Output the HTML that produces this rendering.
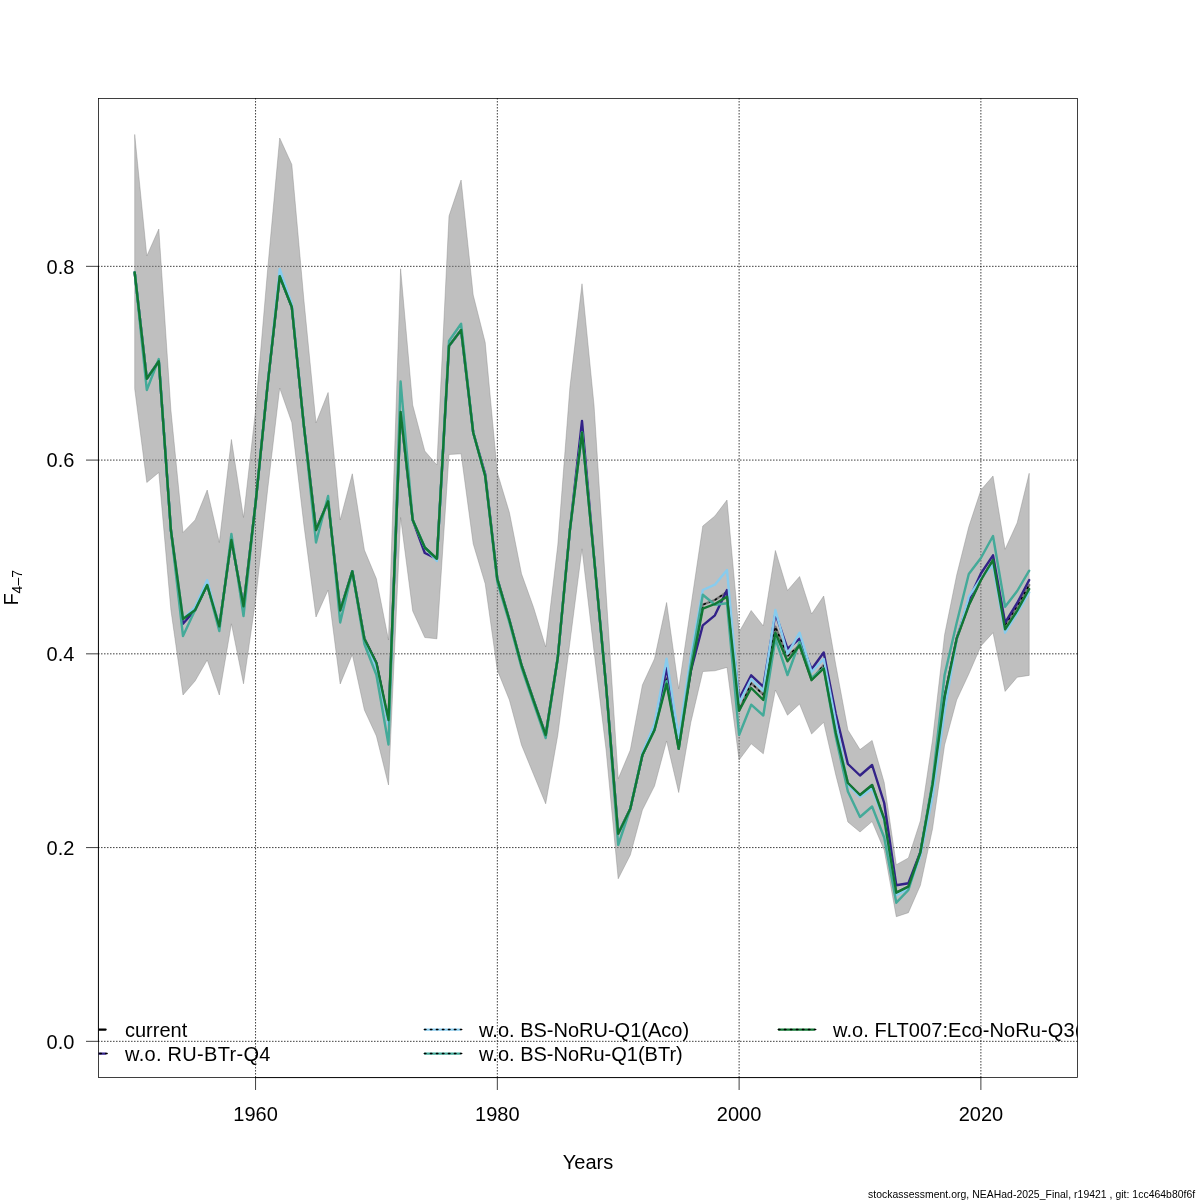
<!DOCTYPE html>
<html><head><meta charset="utf-8"><title>F4-7 leave-out</title>
<style>
html,body{margin:0;padding:0;background:#fff;}
body{width:1200px;height:1200px;overflow:hidden;}
svg{display:block;will-change:transform;}
text{font-family:"Liberation Sans",sans-serif;fill:#000;}
</style></head><body>
<svg width="1200" height="1200" viewBox="0 0 1200 1200">
<defs><clipPath id="pc"><rect x="98.4" y="98.4" width="979.2" height="979.2"/></clipPath></defs>
<g stroke="#000" stroke-width="0.75" stroke-dasharray="0.75 2.25" stroke-linecap="round" fill="none"><line x1="255.56" y1="98.4" x2="255.56" y2="1077.6"/><line x1="497.33" y1="98.4" x2="497.33" y2="1077.6"/><line x1="739.11" y1="98.4" x2="739.11" y2="1077.6"/><line x1="980.89" y1="98.4" x2="980.89" y2="1077.6"/><line x1="98.4" y1="1041.33" x2="1077.6" y2="1041.33"/><line x1="98.4" y1="847.58" x2="1077.6" y2="847.58"/><line x1="98.4" y1="653.83" x2="1077.6" y2="653.83"/><line x1="98.4" y1="460.08" x2="1077.6" y2="460.08"/><line x1="98.4" y1="266.33" x2="1077.6" y2="266.33"/></g>
<g clip-path="url(#pc)">
<path d="M134.7 134.5 L146.8 256.0 L158.8 229.0 L170.9 410.0 L183.0 532.5 L195.1 520.0 L207.2 490.0 L219.3 542.5 L231.4 439.5 L243.5 517.5 L255.6 410.0 L267.6 270.0 L279.7 138.0 L291.8 164.5 L303.9 300.0 L316.0 423.0 L328.1 392.5 L340.2 520.0 L352.3 473.8 L364.4 550.0 L376.4 578.8 L388.5 640.0 L400.6 268.8 L412.7 405.0 L424.8 451.0 L436.9 465.0 L449.0 216.0 L461.1 180.0 L473.2 295.0 L485.2 342.5 L497.3 472.5 L509.4 512.5 L521.5 573.8 L533.6 607.5 L545.7 647.0 L557.8 545.0 L569.9 387.5 L582.0 283.8 L594.0 405.0 L606.1 593.0 L618.2 778.8 L630.3 750.0 L642.4 685.0 L654.5 658.8 L666.6 602.5 L678.7 688.8 L690.8 607.0 L702.8 526.0 L714.9 516.0 L727.0 500.0 L739.1 632.0 L751.2 610.5 L763.3 626.0 L775.4 550.5 L787.5 590.5 L799.6 576.5 L811.6 614.0 L823.7 596.0 L835.8 665.0 L847.9 730.0 L860.0 749.6 L872.1 740.4 L884.2 782.5 L896.3 864.7 L908.4 858.0 L920.4 820.7 L932.5 740.0 L944.6 634.7 L956.7 575.0 L968.8 526.7 L980.9 490.0 L993.0 476.0 L1005.1 549.3 L1017.2 522.7 L1029.2 473.3 L1029.2 675.4 L1017.2 677.2 L1005.1 691.4 L993.0 632.7 L980.9 646.0 L968.8 674.0 L956.7 700.0 L944.6 745.0 L932.5 829.0 L920.4 885.3 L908.4 912.7 L896.3 916.7 L884.2 850.0 L872.1 821.5 L860.0 832.0 L847.9 822.0 L835.8 775.0 L823.7 722.3 L811.6 734.0 L799.6 704.0 L787.5 715.2 L775.4 690.0 L763.3 753.8 L751.2 743.8 L739.1 760.0 L727.0 667.4 L714.9 670.8 L702.8 671.5 L690.8 722.5 L678.7 792.5 L666.6 741.0 L654.5 786.0 L642.4 810.0 L630.3 855.0 L618.2 878.8 L606.1 750.0 L594.0 651.0 L582.0 548.8 L569.9 642.5 L557.8 735.0 L545.7 803.8 L533.6 774.5 L521.5 745.0 L509.4 700.0 L497.3 670.0 L485.2 583.8 L473.2 543.8 L461.1 453.8 L449.0 454.5 L436.9 638.8 L424.8 637.5 L412.7 611.0 L400.6 517.5 L388.5 785.0 L376.4 736.0 L364.4 710.0 L352.3 654.5 L340.2 684.0 L328.1 590.0 L316.0 617.0 L303.9 525.0 L291.8 422.5 L279.7 388.0 L267.6 490.0 L255.6 600.0 L243.5 683.8 L231.4 623.8 L219.3 695.0 L207.2 660.0 L195.1 681.0 L183.0 695.0 L170.9 610.0 L158.8 472.5 L146.8 482.5 L134.7 388.8Z" fill="rgba(128,128,128,0.5)" stroke="rgba(128,128,128,0.5)" stroke-width="0.75" stroke-linejoin="round"/>
<g fill="none" stroke-linejoin="round" stroke-linecap="round">
<path d="M134.7 272.5 L146.8 378.8 L158.8 361.3 L170.9 530.0 L183.0 619.0 L195.1 610.0 L207.2 585.0 L219.3 626.3 L231.4 540.0 L243.5 606.3 L255.6 503.0 L267.6 385.0 L279.7 276.3 L291.8 307.0 L303.9 426.0 L316.0 530.0 L328.1 501.3 L340.2 610.5 L352.3 571.3 L364.4 638.8 L376.4 663.0 L388.5 720.0 L400.6 412.0 L412.7 520.0 L424.8 547.5 L436.9 558.8 L449.0 346.0 L461.1 330.0 L473.2 432.5 L485.2 476.0 L497.3 578.8 L509.4 620.0 L521.5 665.0 L533.6 700.5 L545.7 735.0 L557.8 657.5 L569.9 530.0 L582.0 432.5 L594.0 557.0 L606.1 686.0 L618.2 833.8 L630.3 808.8 L642.4 755.0 L654.5 730.0 L666.6 678.0 L678.7 748.8 L690.8 671.0 L702.8 604.7 L714.9 600.0 L727.0 592.0 L739.1 710.7 L751.2 683.0 L763.3 694.7 L775.4 626.7 L787.5 656.0 L799.6 645.3 L811.6 680.0 L823.7 665.0 L835.8 733.0 L847.9 783.0 L860.0 795.0 L872.1 785.0 L884.2 819.0 L896.3 892.7 L908.4 886.7 L920.4 852.5 L932.5 785.0 L944.6 697.0 L956.7 638.7 L968.8 605.3 L980.9 580.0 L993.0 560.0 L1005.1 625.0 L1017.2 606.0 L1029.2 585.0" stroke="#787878" stroke-width="2.4"/>
<path d="M134.7 272.5 L146.8 378.8 L158.8 361.3 L170.9 530.0 L183.0 619.0 L195.1 610.0 L207.2 585.0 L219.3 626.3 L231.4 540.0 L243.5 606.3 L255.6 503.0 L267.6 385.0 L279.7 276.3 L291.8 307.0 L303.9 426.0 L316.0 530.0 L328.1 501.3 L340.2 610.5 L352.3 571.3 L364.4 638.8 L376.4 663.0 L388.5 720.0 L400.6 412.0 L412.7 520.0 L424.8 547.5 L436.9 558.8 L449.0 346.0 L461.1 330.0 L473.2 432.5 L485.2 476.0 L497.3 578.8 L509.4 620.0 L521.5 665.0 L533.6 700.5 L545.7 735.0 L557.8 657.5 L569.9 530.0 L582.0 432.5 L594.0 557.0 L606.1 686.0 L618.2 833.8 L630.3 808.8 L642.4 755.0 L654.5 730.0 L666.6 678.0 L678.7 748.8 L690.8 671.0 L702.8 604.7 L714.9 600.0 L727.0 592.0 L739.1 710.7 L751.2 683.0 L763.3 694.7 L775.4 626.7 L787.5 656.0 L799.6 645.3 L811.6 680.0 L823.7 665.0 L835.8 733.0 L847.9 783.0 L860.0 795.0 L872.1 785.0 L884.2 819.0 L896.3 892.7 L908.4 886.7 L920.4 852.5 L932.5 785.0 L944.6 697.0 L956.7 638.7 L968.8 605.3 L980.9 580.0 L993.0 560.0 L1005.1 625.0 L1017.2 606.0 L1029.2 585.0" stroke="#000" stroke-width="1.5" stroke-dasharray="1.5 4.5" />
<path d="M134.7 272.5 L146.8 378.8 L158.8 361.3 L170.9 530.0 L183.0 623.8 L195.1 610.0 L207.2 585.0 L219.3 626.3 L231.4 540.0 L243.5 606.3 L255.6 503.0 L267.6 385.0 L279.7 276.3 L291.8 307.0 L303.9 426.0 L316.0 530.0 L328.1 501.3 L340.2 610.5 L352.3 571.3 L364.4 638.8 L376.4 663.0 L388.5 723.0 L400.6 412.0 L412.7 520.0 L424.8 553.0 L436.9 558.8 L449.0 346.0 L461.1 330.0 L473.2 432.5 L485.2 474.0 L497.3 578.8 L509.4 620.0 L521.5 665.0 L533.6 700.5 L545.7 735.0 L557.8 657.5 L569.9 530.0 L582.0 421.0 L594.0 557.0 L606.1 686.0 L618.2 833.8 L630.3 808.8 L642.4 755.0 L654.5 727.0 L666.6 668.0 L678.7 741.5 L690.8 671.0 L702.8 625.3 L714.9 615.3 L727.0 590.0 L739.1 698.7 L751.2 675.3 L763.3 686.7 L775.4 613.5 L787.5 648.7 L799.6 638.7 L811.6 669.3 L823.7 652.5 L835.8 714.0 L847.9 764.0 L860.0 775.5 L872.1 765.0 L884.2 803.0 L896.3 885.3 L908.4 883.3 L920.4 852.0 L932.5 785.0 L944.6 697.0 L956.7 638.7 L968.8 600.0 L980.9 573.5 L993.0 555.3 L1005.1 622.7 L1017.2 603.0 L1029.2 580.0" stroke="#332288" stroke-width="2.4"/>
<path d="M134.7 272.5 L146.8 378.8 L158.8 361.3 L170.9 530.0 L183.0 619.0 L195.1 607.0 L207.2 580.0 L219.3 626.3 L231.4 540.0 L243.5 606.3 L255.6 503.0 L267.6 385.0 L279.7 269.0 L291.8 304.0 L303.9 426.0 L316.0 530.0 L328.1 501.3 L340.2 610.5 L352.3 571.3 L364.4 638.8 L376.4 668.0 L388.5 725.0 L400.6 412.0 L412.7 520.0 L424.8 547.5 L436.9 561.0 L449.0 346.0 L461.1 330.0 L473.2 432.5 L485.2 476.0 L497.3 578.8 L509.4 620.0 L521.5 665.0 L533.6 700.5 L545.7 735.0 L557.8 657.5 L569.9 530.0 L582.0 432.5 L594.0 557.0 L606.1 686.0 L618.2 833.8 L630.3 808.8 L642.4 753.0 L654.5 724.0 L666.6 658.8 L678.7 738.0 L690.8 657.0 L702.8 590.0 L714.9 584.7 L727.0 570.0 L739.1 703.0 L751.2 679.0 L763.3 691.0 L775.4 610.0 L787.5 654.0 L799.6 632.7 L811.6 672.0 L823.7 659.0 L835.8 722.0 L847.9 785.0 L860.0 797.0 L872.1 788.5 L884.2 821.0 L896.3 895.3 L908.4 888.7 L920.4 856.0 L932.5 797.0 L944.6 711.0 L956.7 640.0 L968.8 596.7 L980.9 578.5 L993.0 565.0 L1005.1 632.7 L1017.2 613.0 L1029.2 592.5" stroke="#88CCEE" stroke-width="2.4"/>
<path d="M134.7 272.5 L146.8 390.0 L158.8 359.0 L170.9 530.0 L183.0 636.0 L195.1 610.0 L207.2 585.0 L219.3 631.0 L231.4 534.0 L243.5 616.0 L255.6 503.0 L267.6 385.0 L279.7 276.3 L291.8 307.0 L303.9 426.0 L316.0 542.5 L328.1 496.0 L340.2 622.5 L352.3 571.3 L364.4 644.0 L376.4 675.0 L388.5 744.5 L400.6 381.5 L412.7 520.0 L424.8 547.5 L436.9 558.8 L449.0 341.0 L461.1 323.8 L473.2 432.5 L485.2 476.0 L497.3 582.0 L509.4 622.5 L521.5 667.5 L533.6 703.0 L545.7 738.0 L557.8 657.5 L569.9 530.0 L582.0 432.5 L594.0 557.0 L606.1 686.0 L618.2 845.0 L630.3 808.8 L642.4 755.0 L654.5 730.0 L666.6 681.0 L678.7 748.8 L690.8 665.0 L702.8 594.7 L714.9 604.7 L727.0 603.3 L739.1 735.0 L751.2 704.7 L763.3 715.5 L775.4 638.7 L787.5 675.0 L799.6 642.0 L811.6 678.0 L823.7 668.0 L835.8 737.0 L847.9 791.5 L860.0 817.0 L872.1 806.5 L884.2 837.5 L896.3 902.7 L908.4 890.0 L920.4 852.0 L932.5 782.0 L944.6 675.0 L956.7 622.7 L968.8 574.0 L980.9 558.0 L993.0 536.0 L1005.1 606.7 L1017.2 591.0 L1029.2 570.7" stroke="#44AA99" stroke-width="2.4"/>
<path d="M134.7 272.5 L146.8 378.8 L158.8 361.3 L170.9 530.0 L183.0 619.0 L195.1 610.0 L207.2 585.0 L219.3 626.3 L231.4 540.0 L243.5 606.3 L255.6 503.0 L267.6 385.0 L279.7 276.3 L291.8 307.0 L303.9 426.0 L316.0 530.0 L328.1 501.3 L340.2 610.5 L352.3 571.3 L364.4 638.8 L376.4 663.0 L388.5 720.0 L400.6 412.0 L412.7 520.0 L424.8 547.5 L436.9 558.8 L449.0 346.0 L461.1 330.0 L473.2 432.5 L485.2 476.0 L497.3 578.8 L509.4 620.0 L521.5 665.0 L533.6 700.5 L545.7 735.0 L557.8 657.5 L569.9 530.0 L582.0 432.5 L594.0 557.0 L606.1 686.0 L618.2 833.8 L630.3 808.8 L642.4 755.0 L654.5 730.0 L666.6 683.8 L678.7 748.8 L690.8 671.0 L702.8 608.7 L714.9 604.0 L727.0 596.7 L739.1 710.7 L751.2 688.0 L763.3 700.0 L775.4 632.7 L787.5 661.3 L799.6 645.3 L811.6 680.0 L823.7 668.5 L835.8 733.0 L847.9 783.0 L860.0 795.0 L872.1 785.0 L884.2 819.0 L896.3 892.7 L908.4 886.7 L920.4 852.5 L932.5 785.0 L944.6 697.0 L956.7 638.7 L968.8 605.3 L980.9 580.0 L993.0 560.0 L1005.1 629.3 L1017.2 610.7 L1029.2 589.0" stroke="#117733" stroke-width="2.4"/>
</g>
<line x1="70.2" y1="1029.5" x2="105.6" y2="1029.5" stroke="#000" stroke-width="2.25" stroke-linecap="round"/><line x1="70.2" y1="1053.5" x2="105.6" y2="1053.5" stroke="#332288" stroke-width="2.25" stroke-linecap="round"/><line x1="69.8" y1="1053.5" x2="107.1" y2="1053.5" stroke="#000" stroke-width="1.5" stroke-linecap="round" stroke-dasharray="1.5 4.5"/><line x1="424.8" y1="1029.5" x2="460.2" y2="1029.5" stroke="#88CCEE" stroke-width="2.25" stroke-linecap="round"/><line x1="424.4" y1="1029.5" x2="461.7" y2="1029.5" stroke="#000" stroke-width="1.5" stroke-linecap="round" stroke-dasharray="1.5 4.5"/><line x1="424.8" y1="1053.5" x2="460.2" y2="1053.5" stroke="#44AA99" stroke-width="2.25" stroke-linecap="round"/><line x1="424.4" y1="1053.5" x2="461.7" y2="1053.5" stroke="#000" stroke-width="1.5" stroke-linecap="round" stroke-dasharray="1.5 4.5"/><line x1="778.8" y1="1029.5" x2="814.2" y2="1029.5" stroke="#117733" stroke-width="2.25" stroke-linecap="round"/><line x1="778.4" y1="1029.5" x2="815.7" y2="1029.5" stroke="#000" stroke-width="1.5" stroke-linecap="round" stroke-dasharray="1.5 4.5"/>
<g font-size="20"><text x="125" y="1037">current</text><text x="125" y="1061" textLength="145.4">w.o. RU-BTr-Q4</text><text x="479" y="1037">w.o. BS-NoRU-Q1(Aco)</text><text x="479" y="1061">w.o. BS-NoRu-Q1(BTr)</text><text x="833" y="1037" textLength="286.8">w.o. FLT007:Eco-NoRu-Q3(BTr)</text></g>
</g>
<g stroke="#000" stroke-width="0.75" fill="none" stroke-linecap="round"><rect x="98.4" y="98.4" width="979.2" height="979.2"/><line x1="255.56" y1="1077.6" x2="255.56" y2="1089.6"/><line x1="497.33" y1="1077.6" x2="497.33" y2="1089.6"/><line x1="739.11" y1="1077.6" x2="739.11" y2="1089.6"/><line x1="980.89" y1="1077.6" x2="980.89" y2="1089.6"/><line x1="86.4" y1="1041.33" x2="98.4" y2="1041.33"/><line x1="86.4" y1="847.58" x2="98.4" y2="847.58"/><line x1="86.4" y1="653.83" x2="98.4" y2="653.83"/><line x1="86.4" y1="460.08" x2="98.4" y2="460.08"/><line x1="86.4" y1="266.33" x2="98.4" y2="266.33"/><line x1="98.4" y1="266.33" x2="98.4" y2="1041.33"/><line x1="255.56" y1="1077.6" x2="980.89" y2="1077.6"/></g>
<g font-size="20"><text x="255.6" y="1121" text-anchor="middle">1960</text><text x="497.3" y="1121" text-anchor="middle">1980</text><text x="739.1" y="1121" text-anchor="middle">2000</text><text x="980.9" y="1121" text-anchor="middle">2020</text><text x="74.4" y="1048.5" text-anchor="end">0.0</text><text x="74.4" y="854.8" text-anchor="end">0.2</text><text x="74.4" y="661.0" text-anchor="end">0.4</text><text x="74.4" y="467.3" text-anchor="end">0.6</text><text x="74.4" y="273.5" text-anchor="end">0.8</text><text x="588" y="1169" text-anchor="middle">Years</text><text transform="translate(17.9 605.6) rotate(-90)">F<tspan font-size="14" dy="4">4&#8211;7</tspan></text></g>
<text x="868" y="1197.5" font-size="10.4" textLength="327.2">stockassessment.org, NEAHad-2025_Final, r19421 , git: 1cc464b80f6f</text>
</svg></body></html>
